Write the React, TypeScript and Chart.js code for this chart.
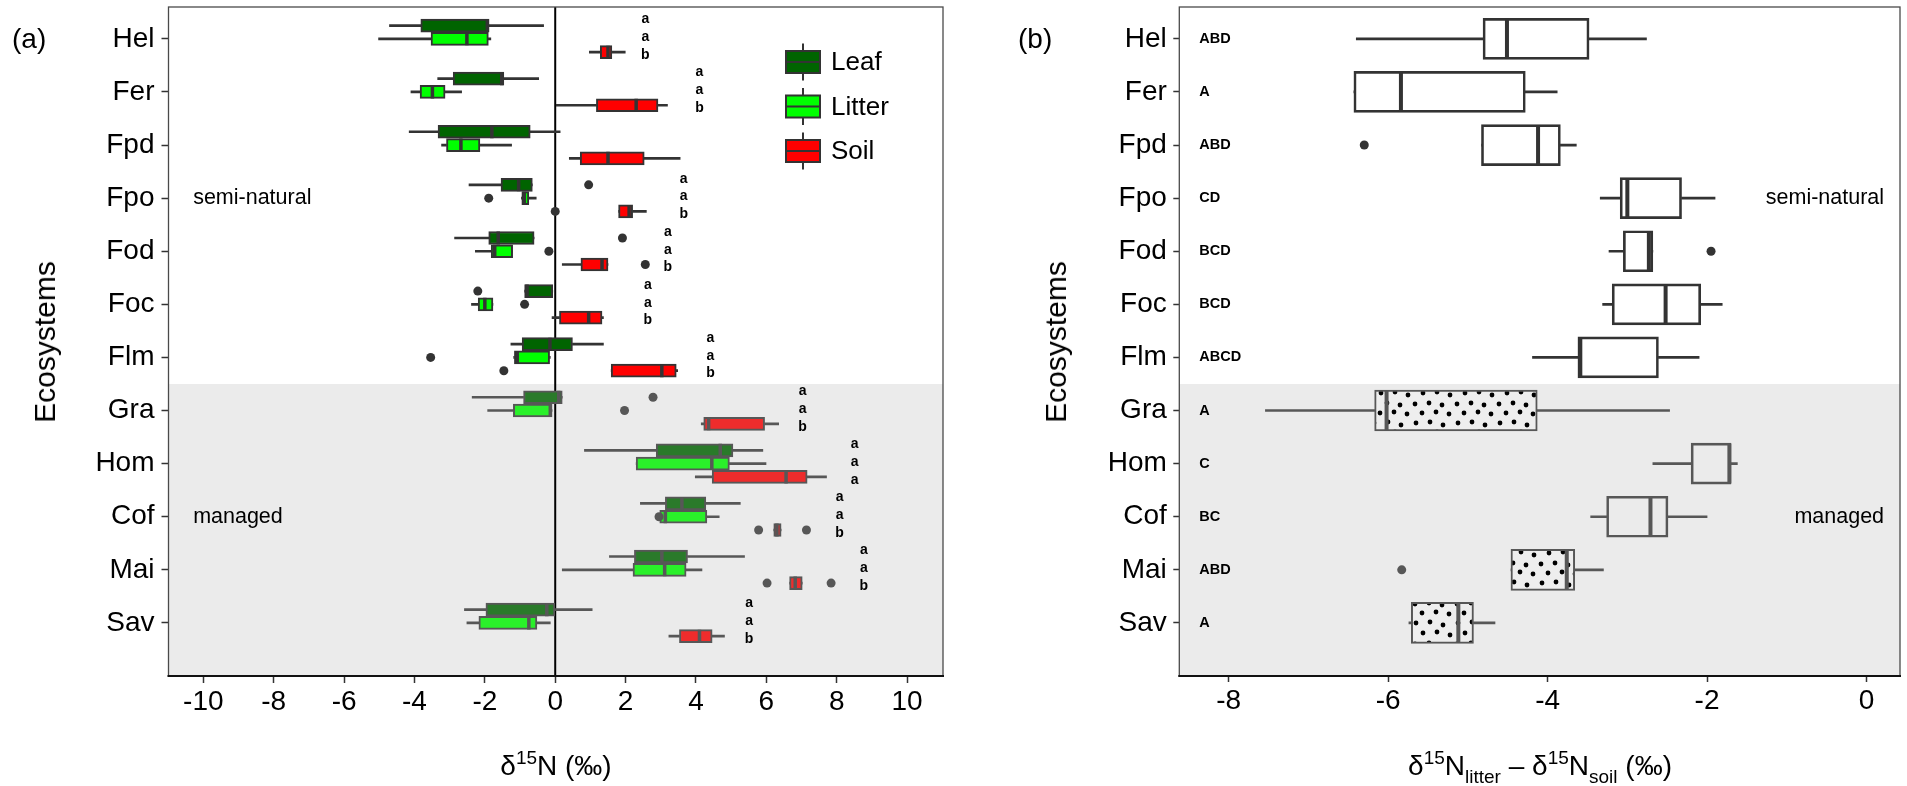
import React, { useEffect, useRef } from 'react';
import { Chart, registerables } from 'chart.js';

Chart.register(...registerables);

const FONT = "'Liberation Sans', Arial, Helvetica, sans-serif";

// ---------------- data ----------------
const categories = ['Hel', 'Fer', 'Fpd', 'Fpo', 'Fod', 'Foc', 'Flm', 'Gra', 'Hom', 'Cof', 'Mai', 'Sav'];
const naturalCount = 7; // first 7 ecosystems are semi-natural, the rest managed
const groupLabels = ['semi-natural', 'managed'];
const seriesNames = ['Leaf', 'Litter', 'Soil'];

// [lower whisker, Q1, median, Q3, upper whisker]  (δ15N ‰)
const leafStats = [
  [-4.71, -3.82, -1.93, -1.88, -0.33],
  [-3.34, -2.9, -1.52, -1.46, -0.47],
  [-4.15, -3.33, -1.8, -0.71, 0.14],
  [-2.45, -1.54, -1.04, -0.65, -0.65],
  [-2.86, -1.89, -1.62, -0.6, -0.6],
  [-0.87, -0.87, -0.8, -0.07, -0.07],
  [-1.26, -0.94, -0.15, 0.49, 1.37],
  [-2.36, -0.9, 0.1, 0.2, 0.2],
  [0.83, 2.87, 4.69, 5.05, 5.9],
  [2.42, 3.13, 3.6, 4.28, 5.26],
  [1.54, 2.25, 3.03, 3.76, 5.38],
  [-2.58, -1.97, -0.24, -0.01, 1.05],
];
const litterStats = [
  [-5.02, -3.53, -2.51, -1.9, -1.83],
  [-4.1, -3.84, -3.49, -3.13, -2.66],
  [-3.23, -3.09, -2.68, -2.14, -1.24],
  [-0.96, -0.95, -0.88, -0.75, -0.54],
  [-2.27, -1.82, -1.72, -1.21, -1.21],
  [-2.38, -2.19, -2.0, -1.77, -1.77],
  [-1.18, -1.16, -1.08, -0.16, -0.14],
  [-1.92, -1.19, -0.14, -0.09, -0.09],
  [2.3, 2.3, 4.45, 4.95, 5.99],
  [2.94, 2.97, 3.13, 4.31, 4.66],
  [0.2, 2.21, 3.11, 3.72, 4.17],
  [-2.51, -2.17, -0.75, -0.52, -0.14],
];
const soilStats = [
  [0.97, 1.28, 1.5, 1.61, 1.99],
  [0.03, 1.17, 2.3, 2.92, 3.19],
  [0.4, 0.71, 1.5, 2.53, 3.55],
  [1.8, 1.8, 2.1, 2.2, 2.59],
  [0.2, 0.73, 1.33, 1.5, 1.5],
  [-0.09, 0.12, 0.95, 1.33, 1.37],
  [1.59, 1.59, 3.03, 3.44, 3.48],
  [4.15, 4.22, 4.36, 5.95, 6.35],
  [3.98, 4.46, 6.56, 7.16, 7.71],
  [6.21, 6.21, 6.3, 6.42, 6.42],
  [6.66, 6.66, 6.82, 7.02, 7.02],
  [3.23, 3.53, 4.1, 4.46, 4.81],
];
// [category index, value]
const leafOutliers = [[3, 0.95], [4, 1.91], [5, -2.2], [7, 2.78]];
const litterOutliers = [[3, -1.89], [4, -0.18], [5, -0.87], [6, -3.54], [7, 1.97], [9, 2.95]];
const soilOutliers = [[3, 0.0], [4, 2.56], [6, -1.46], [9, 5.78], [9, 7.14], [10, 6.02], [10, 7.84]];
// significance letters (leaf / litter / soil) per ecosystem
const lettersA = ['aab', 'aab', '', 'aab', 'aab', 'aab', 'aab', 'aab', 'aaa', 'aab', 'aab', 'aab'];
const xTicksA = [-10, -8, -6, -4, -2, 0, 2, 4, 6, 8, 10];

// δ15N litter − δ15N soil
const diffStats = [
  [-6.4, -4.81, -4.51, -3.48, -2.76],
  [-6.43, -6.43, -5.84, -4.28, -3.88],
  [-4.83, -4.83, -4.12, -3.84, -3.64],
  [-3.34, -3.09, -3.0, -2.32, -1.9],
  [-3.23, -3.05, -2.73, -2.68, -2.68],
  [-3.31, -3.19, -2.52, -2.08, -1.81],
  [-4.19, -3.62, -3.59, -2.61, -2.1],
  [-7.54, -6.17, -6.02, -4.13, -2.47],
  [-2.68, -2.2, -1.72, -1.7, -1.62],
  [-3.46, -3.26, -2.71, -2.49, -2.0],
  [-4.46, -4.46, -3.76, -3.66, -3.3],
  [-5.74, -5.71, -5.12, -4.93, -4.66],
];
const diffOutliers = [[2, -6.3], [4, -1.95], [10, -5.83]];
const diffLetters = ['ABD', 'A', 'ABD', 'CD', 'BCD', 'BCD', 'ABCD', 'A', 'C', 'BC', 'ABD', 'A'];
const diffPatterned = [false, false, false, false, false, false, false, true, false, false, true, true];
const xTicksB = [-8, -6, -4, -2, 0];

// ---------------- styling / layout constants ----------------
const letterPosA = [2.56, 4.1, 0, 3.65, 3.2, 2.63, 4.41, 7.03, 8.51, 8.08, 8.77, 5.51];
const letterPosB = -8.37;
const groupPosA = -10.29;
const groupPosB = 0.22;
const fillNatural = ['#006400', '#00FF00', '#FF0000'];
const fillManaged = ['#2A7A2A', '#2AF02A', '#EE2C2C'];
const isManaged = (i: number) => i >= naturalCount;
const lineCol = (i: number) => (isManaged(i) ? '#575757' : '#333333');

function boxDatasets(o: {
  stats: number[][];
  outliers: number[][];
  offset: number;
  fill: (i: number) => any;
  thickness: number;
  medRadius: number;
  medWidth: number;
}) {
  const whisk: any[] = [];
  o.stats.forEach((d, i) => {
    whisk.push({ y: i + o.offset, x: [d[0], d[1]], cat: i });
    whisk.push({ y: i + o.offset, x: [d[3], d[4]], cat: i });
  });
  return [
    {
      type: 'bar',
      data: whisk,
      barThickness: 2,
      grouped: false,
      backgroundColor: (c: any) => lineCol(c.raw ? c.raw.cat : 0),
      borderWidth: 0,
      order: 5,
    },
    {
      type: 'bar',
      data: o.stats.map((d, i) => ({ y: i + o.offset, x: [d[1], d[3]], cat: i })),
      barThickness: o.thickness,
      grouped: false,
      backgroundColor: (c: any) => o.fill(c.raw ? c.raw.cat : 0),
      borderColor: (c: any) => lineCol(c.raw ? c.raw.cat : 0),
      borderWidth: 2,
      borderSkipped: false,
      order: 4,
    },
    {
      type: 'scatter',
      data: o.stats.map((d, i) => ({ y: i + o.offset, x: d[2], cat: i })),
      pointStyle: 'line',
      pointRotation: 90,
      pointRadius: o.medRadius,
      pointHoverRadius: o.medRadius,
      pointBorderWidth: o.medWidth,
      pointBorderColor: (c: any) => lineCol(c.raw ? c.raw.cat : 0),
      order: 3,
    },
    {
      type: 'scatter',
      data: o.outliers.map((p) => ({ y: p[0] + o.offset, x: p[1], cat: p[0] })),
      pointStyle: 'circle',
      pointRadius: 4.5,
      pointHoverRadius: 4.5,
      pointBorderWidth: 0,
      pointBackgroundColor: (c: any) => lineCol(c.raw ? c.raw.cat : 0),
      order: 2,
    },
  ];
}

function zeroPad(s: any) {
  s.paddingTop = 0;
  s.paddingBottom = 0;
  s.paddingLeft = 0;
  s.paddingRight = 0;
}

function axes(xMin: number, xMax: number, xTicks: number[], yWidth: number, tickLen: number, pad: number) {
  const grid = { drawOnChartArea: false, drawTicks: true, tickLength: tickLen, tickWidth: 1.5, tickColor: '#333', offset: false };
  return {
    x: {
      type: 'linear',
      min: xMin,
      max: xMax,
      offset: false,
      afterBuildTicks: (s: any) => { s.ticks = xTicks.map((v) => ({ value: v })); },
      afterFit: (s: any) => { s.height = 110; zeroPad(s); },
      ticks: { font: { family: FONT, size: 28 }, color: '#000', padding: 2, maxRotation: 0, autoSkip: false, callback: (v: any) => String(v) },
      grid,
      border: { display: false },
    },
    y: {
      type: 'linear',
      reverse: true,
      min: -0.6,
      max: 12,
      offset: false,
      afterBuildTicks: (s: any) => { s.ticks = categories.map((_, i) => ({ value: i })); },
      afterFit: (s: any) => { s.width = yWidth; zeroPad(s); },
      ticks: { font: { family: FONT, size: 28 }, color: '#000', padding: pad, autoSkip: false, callback: (v: any) => categories[v] ?? '' },
      grid,
      border: { display: false },
    },
  };
}

function drawBackground(chart: any) {
  const { ctx, chartArea: a, scales } = chart;
  const yb = scales.y.getPixelForValue(naturalCount - 0.5);
  ctx.save();
  ctx.fillStyle = '#EBEBEB';
  ctx.fillRect(a.left, yb, a.right - a.left, a.bottom - yb);
  ctx.restore();
}

function drawFrame(chart: any) {
  const { ctx, chartArea: a } = chart;
  ctx.save();
  ctx.strokeStyle = '#4a4a4a';
  ctx.lineWidth = 1.3;
  ctx.strokeRect(a.left, a.top, a.right - a.left, a.bottom - a.top);
  ctx.strokeStyle = '#111';
  ctx.lineWidth = 2;
  ctx.beginPath();
  ctx.moveTo(a.left - 1, a.bottom);
  ctx.lineTo(a.right + 1, a.bottom);
  ctx.stroke();
  ctx.restore();
}

const pluginA = {
  id: 'panelA',
  beforeDatasetsDraw(chart: any) {
    drawBackground(chart);
    const { ctx, chartArea: a, scales } = chart;
    const x0 = scales.x.getPixelForValue(0);
    ctx.save();
    ctx.strokeStyle = '#000';
    ctx.lineWidth = 2;
    ctx.beginPath();
    ctx.moveTo(x0, a.top);
    ctx.lineTo(x0, a.bottom);
    ctx.stroke();
    ctx.restore();
  },
  afterDraw(chart: any) {
    drawFrame(chart);
    const { ctx, chartArea: a, scales } = chart;
    const { x, y } = scales;
    ctx.save();
    // significance letters
    ctx.fillStyle = '#000';
    ctx.font = `bold 14px ${FONT}`;
    ctx.textAlign = 'center';
    ctx.textBaseline = 'alphabetic';
    const offs = [-15.5, 2.3, 20];
    lettersA.forEach((s, i) => {
      const px = x.getPixelForValue(letterPosA[i]);
      const py = y.getPixelForValue(i);
      s.split('').forEach((ch, k) => ctx.fillText(ch, px, py + offs[k]));
    });
    // group labels
    ctx.font = `21.5px ${FONT}`;
    ctx.textAlign = 'left';
    ctx.textBaseline = 'middle';
    ctx.fillText(groupLabels[0], x.getPixelForValue(groupPosA), y.getPixelForValue(3));
    ctx.fillText(groupLabels[1], x.getPixelForValue(groupPosA), y.getPixelForValue(9));
    // legend
    const kx = a.right - 140;
    seriesNames.forEach((name, s) => {
      const cy = a.top + 55 + s * 44.5;
      ctx.fillStyle = fillNatural[s];
      ctx.fillRect(kx - 17, cy - 11, 34, 22);
      ctx.strokeStyle = '#333';
      ctx.lineWidth = 2;
      ctx.strokeRect(kx - 17, cy - 11, 34, 22);
      ctx.beginPath();
      ctx.moveTo(kx, cy - 18.5);
      ctx.lineTo(kx, cy - 11);
      ctx.moveTo(kx, cy + 11);
      ctx.lineTo(kx, cy + 18.5);
      ctx.moveTo(kx - 17, cy);
      ctx.lineTo(kx + 17, cy);
      ctx.stroke();
      ctx.fillStyle = '#000';
      ctx.font = `26px ${FONT}`;
      ctx.textAlign = 'left';
      ctx.textBaseline = 'middle';
      ctx.fillText(name, kx + 28, cy + 1);
    });
    ctx.restore();
  },
};

const pluginB = {
  id: 'panelB',
  beforeDatasetsDraw(chart: any) {
    drawBackground(chart);
  },
  afterDraw(chart: any) {
    drawFrame(chart);
    const { ctx, scales } = chart;
    const { x, y } = scales;
    ctx.save();
    ctx.fillStyle = '#000';
    ctx.font = `bold 14.5px ${FONT}`;
    ctx.textAlign = 'left';
    ctx.textBaseline = 'middle';
    diffLetters.forEach((s, i) => ctx.fillText(s, x.getPixelForValue(letterPosB), y.getPixelForValue(i)));
    ctx.font = `21.5px ${FONT}`;
    ctx.textAlign = 'right';
    ctx.fillText(groupLabels[0], x.getPixelForValue(groupPosB), y.getPixelForValue(3));
    ctx.fillText(groupLabels[1], x.getPixelForValue(groupPosB), y.getPixelForValue(9));
    ctx.restore();
  },
};

function makeDotPattern(ctx: CanvasRenderingContext2D) {
  const c = document.createElement('canvas');
  c.width = 42;
  c.height = 40;
  const g = c.getContext('2d')!;
  g.fillStyle = '#EEEEEE';
  g.fillRect(0, 0, 42, 40);
  g.fillStyle = '#000';
  const dots = [
    [3, 4], [17, 3], [30, 5],
    [10, 13], [24, 12], [37, 14],
    [4, 23], [18, 22], [31, 25],
    [11, 33], [25, 32], [38, 35],
  ];
  dots.forEach(([dx, dy]) => { g.beginPath(); g.arc(dx, dy, 2.4, 0, Math.PI * 2); g.fill(); });
  return ctx.createPattern(c, 'repeat');
}

export default function App() {
  const refA = useRef<HTMLCanvasElement>(null);
  const refB = useRef<HTMLCanvasElement>(null);

  useEffect(() => {
    const common = {
      responsive: false,
      animation: false,
      events: [],
      indexAxis: 'y',
      plugins: { legend: { display: false }, tooltip: { enabled: false }, title: { display: false } },
    };
    const offsets = [-0.25, 0, 0.25];
    const statsA = [leafStats, litterStats, soilStats];
    const outA = [leafOutliers, litterOutliers, soilOutliers];
    const dsA: any[] = [];
    statsA.forEach((st, s) => {
      dsA.push(...boxDatasets({
        stats: st,
        outliers: outA[s],
        offset: offsets[s],
        fill: (i) => (isManaged(i) ? fillManaged[s] : fillNatural[s]),
        thickness: 13,
        medRadius: 6.5,
        medWidth: 3.5,
      }));
    });
    const chartA = new Chart(refA.current!, {
      type: 'bar',
      data: { datasets: dsA },
      options: {
        ...common,
        layout: { autoPadding: false, padding: { top: 7, right: 7, left: 0, bottom: 0 } },
        scales: axes(-10.99, 11.02, xTicksA, 168.5, 7, 7),
      } as any,
      plugins: [pluginA],
    } as any);

    const pattern = makeDotPattern(refB.current!.getContext('2d')!);
    const dsB = boxDatasets({
      stats: diffStats,
      outliers: diffOutliers,
      offset: 0,
      fill: (i) => (diffPatterned[i] ? pattern : 'rgba(0,0,0,0)'),
      thickness: 41,
      medRadius: 20,
      medWidth: 4,
    });
    const chartB = new Chart(refB.current!, {
      type: 'bar',
      data: { datasets: dsB },
      options: {
        ...common,
        layout: { autoPadding: false, padding: { top: 7, right: 7, left: 0, bottom: 0 } },
        scales: axes(-8.62, 0.42, xTicksB, 229.3, 6, 6.5),
      } as any,
      plugins: [pluginB],
    } as any);
    return () => { chartA.destroy(); chartB.destroy(); };
  }, []);

  const abs = (extra: any) => ({ position: 'absolute' as const, fontFamily: FONT, color: '#000', whiteSpace: 'nowrap' as const, ...extra });
  const sup = { fontSize: 19, position: 'relative' as const, top: -11 };
  const sub = { fontSize: 19, position: 'relative' as const, top: 8 };

  return (
    <div style={{ position: 'absolute', left: 0, top: 0, width: 1907, height: 786, background: '#fff', overflow: 'hidden' }}>
      <canvas ref={refA} width={950} height={786} style={{ position: 'absolute', left: 0, top: 0, width: 950, height: 786 }} />
      <canvas ref={refB} width={957} height={786} style={{ position: 'absolute', left: 950, top: 0, width: 957, height: 786 }} />
      <div style={abs({ left: 12, top: 22, fontSize: 28, lineHeight: '34px' })}>(a)</div>
      <div style={abs({ left: 1018, top: 22, fontSize: 28, lineHeight: '34px' })}>(b)</div>
      <div style={abs({ left: 45, top: 341.5, fontSize: 30, lineHeight: '34px', transform: 'translate(-50%, -50%) rotate(-90deg)' })}>Ecosystems</div>
      <div style={abs({ left: 1056, top: 341.5, fontSize: 30, lineHeight: '34px', transform: 'translate(-50%, -50%) rotate(-90deg)' })}>Ecosystems</div>
      <div style={abs({ left: 556, top: 767, fontSize: 28, lineHeight: '34px', transform: 'translate(-50%, -50%)' })}>
        δ<span style={sup}>15</span>N (‰)
      </div>
      <div style={abs({ left: 1540, top: 767, fontSize: 28, lineHeight: '34px', transform: 'translate(-50%, -50%)' })}>
        δ<span style={sup}>15</span>N<span style={sub}>litter</span> – δ<span style={sup}>15</span>N<span style={sub}>soil</span> (‰)
      </div>
    </div>
  );
}
